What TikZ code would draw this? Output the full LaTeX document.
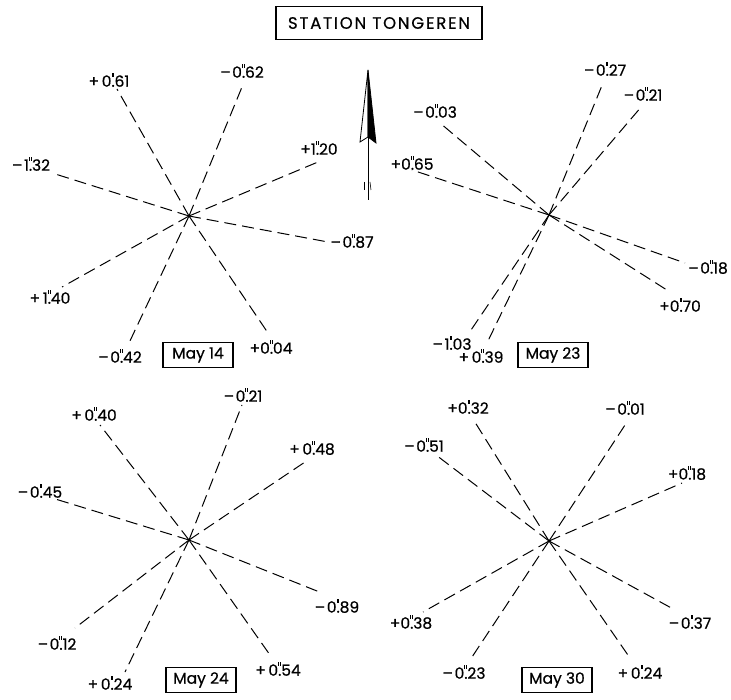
\documentclass[tikz,border=0pt]{standalone}
\usepackage{fontspec}
\setmainfont{Poppins}[FakeBold=0.6]
\newcommand\dsec[2]{#1\rlap{.}\raisebox{1.15ex}{\rule{.75pt}{3.8pt}\kern1pt\rule{.75pt}{3.8pt}}\kern.6pt#2}
\newcommand\mn{\textendash\kern.1em}

\tikzset{
  obs/.style={dash pattern=on 12pt off 6pt, line width=1pt},
  val/.style={inner sep=0pt, font=\fontsize{15.5}{15.5}\selectfont},
  datebox/.style={draw, line width=1.5pt, minimum width=70pt, minimum height=25pt,
    inner sep=0pt, font=\fontsize{15.5}{15.5}\selectfont},
}

\begin{document}
\begin{tikzpicture}[x=1pt, y=-1pt]
\useasboundingbox (0,0) rectangle (731,700);

\node[draw, line width=1.5pt, minimum width=206pt, minimum height=33pt, inner sep=0pt,
  font=\fontsize{16.5}{16.5}\selectfont\addfontfeature{LetterSpace=11}] (title) at (379,23) {STATION TONGEREN};

% north arrow
\coordinate (tip) at (368,70);
\coordinate (lbarb) at (360,142);
\coordinate (rbarb) at (376,143);
\coordinate (notch) at (368,137);
\coordinate (tail) at (368,200);
\draw[line width=0.8pt, fill=white] (tip) -- (lbarb) -- (notch) -- cycle;
\filldraw[line width=0.8pt] (tip) -- (rbarb) -- (notch) -- cycle;
\draw[line width=1pt] (notch) -- (tail);
\draw[line width=0.6pt] (364,182) -- (364,190);
\draw[line width=0.6pt] (370,182) -- (371,190);

% centres of the four stars
\coordinate (c14) at (189,216);
\coordinate (c23) at (549,215);
\coordinate (c24) at (189,540);
\coordinate (c30) at (549,541);

% May 14
\foreach \n/\ex/\ey/\lx/\ly/\t in {
  a1/117/89/109/80/{+\,\dsec{0}{61}}, a2/268/333/271/347/{+\dsec{0}{04}},
  a3/242/87/242/71/{\mn\dsec{0}{62}}, a4/129/343/120/356/{\mn\dsec{0}{42}},
  a5/318/162/319/148/{+\dsec{1}{20}}, a6/62/287/50/297/{+\,\dsec{1}{40}},
  a7/52/173/31/164/{\mn\dsec{1}{32}}, a8/328/242/352/241/{\mn\dsec{0}{87}}}
{
  \coordinate (\n) at (\ex,\ey);
  \node[val] (l\n) at (\lx,\ly) {\t};
  \draw[obs] (c14) -- (\n);
}
\node[datebox] (may14) at (198,355) {May 14};

% May 23
\foreach \n/\ex/\ey/\lx/\ly/\t in {
  b1/603/83/605/69/{\mn\dsec{0}{27}}, b2/487/343/481/356/{+\,\dsec{0}{39}},
  b3/642/106/643/94/{\mn\dsec{0}{21}}, b4/469/333/452/343/{\mn\dsec{1}{03}},
  b5/440/123/435/111/{\mn\dsec{0}{03}}, b6/670/292/680/305/{+\dsec{0}{70}},
  b7/412/170/412/163/{+\dsec{0}{65}}, b8/685/263/708/267/{\mn\dsec{0}{18}}}
{
  \coordinate (\n) at (\ex,\ey);
  \node[val] (l\n) at (\lx,\ly) {\t};
  \draw[obs] (c23) -- (\n);
}
\node[datebox] (may23) at (553,355) {May 23};

% May 24
\foreach \n/\ex/\ey/\lx/\ly/\t in {
  c1/242/405/243/395/{\mn\dsec{0}{21}}, c2/125/672/110/683/{+\,\dsec{0}{24}},
  c3/100/425/94/414/{+\,\dsec{0}{40}}, c4/270/655/278/669/{+\,\dsec{0}{54}},
  c5/308/460/312/448/{+\,\dsec{0}{48}}, c6/75/628/57/643/{\mn\dsec{0}{12}},
  c7/52/498/40/491/{\mn\dsec{0}{45}}, c8/322/593/337/606/{\mn\dsec{0}{89}}}
{
  \coordinate (\n) at (\ex,\ey);
  \node[val] (l\n) at (\lx,\ly) {\t};
  \draw[obs] (c24) -- (\n);
}
\node[datebox] (may24) at (201,680) {May 24};

% May 30
\foreach \n/\ex/\ey/\lx/\ly/\t in {
  d1/473/419/468/407/{+\dsec{0}{32}}, d2/630/658/640/672/{+\,\dsec{0}{24}},
  d3/627/422/625/408/{\mn\dsec{0}{01}}, d4/470/660/464/672/{\mn\dsec{0}{23}},
  d5/436/455/424/445/{\mn\dsec{0}{51}}, d6/675/610/690/622/{\mn\dsec{0}{37}},
  d7/682/483/687/473/{+\dsec{0}{18}}, d8/423/612/411/622/{+\dsec{0}{38}}}
{
  \coordinate (\n) at (\ex,\ey);
  \node[val] (l\n) at (\lx,\ly) {\t};
  \draw[obs] (c30) -- (\n);
}
\node[datebox] (may30) at (557,680) {May 30};

\end{tikzpicture}
\end{document}
